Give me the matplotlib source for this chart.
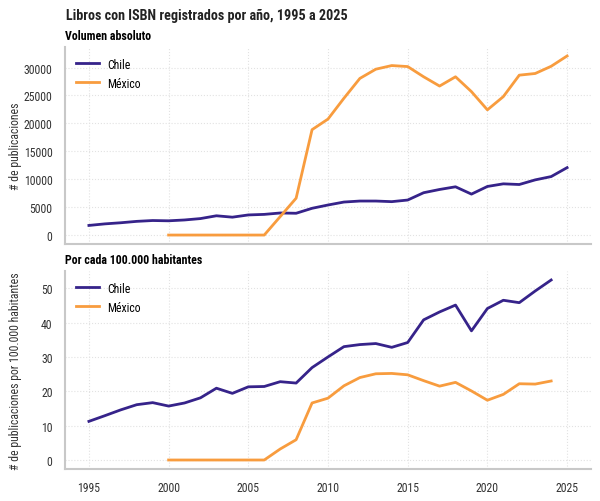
import numpy as np
import matplotlib.pyplot as plt

plt.rcParams['font.family'] = ['Roboto Condensed', 'Barlow Semi Condensed', 'Roboto', 'DejaVu Sans']

# datos
anios_chile = list(range(1995, 2026))
chile_abs = [1720, 2000, 2200, 2450, 2600, 2550, 2700, 2950, 3450, 3200, 3600,
             3700, 3950, 3900, 4790, 5380, 5910, 6090, 6090, 5980, 6270, 7580,
             8160, 8640, 7330, 8700, 9170, 9050, 9880, 10470, 12070]
anios_mexico = list(range(2000, 2026))
mexico_abs = [0, 0, 0, 0, 0, 0, 0, 3300, 6600, 18870, 20770, 24500, 28050,
              29700, 30350, 30170, 28340, 26680, 28340, 25680, 22420, 24790,
              28630, 28930, 30220, 32070]

anios_chile_pc = list(range(1995, 2025))
chile_pc = [11.25, 12.9, 14.6, 16.1, 16.7, 15.7, 16.6, 18.1, 20.9, 19.4, 21.3,
            21.4, 22.8, 22.4, 26.9, 30.0, 33.0, 33.6, 33.9, 32.8, 34.2, 40.8,
            43.1, 45.1, 37.6, 44.1, 46.5, 45.8, 49.2, 52.4]
anios_mexico_pc = list(range(2000, 2025))
mexico_pc = [0, 0, 0, 0, 0, 0, 0, 3.2, 5.9, 16.6, 18.0, 21.6, 24.0, 25.1, 25.2,
             24.8, 23.1, 21.5, 22.6, 20.1, 17.4, 19.1, 22.2, 22.1, 23.0]

color_chile = '#36238a'
color_mexico = '#f89c3e'

fig = plt.figure(figsize=(6, 5.02), dpi=100)
ax1 = fig.add_axes([65/600, 1-245/502, 526/600, 197/502])
ax2 = fig.add_axes([65/600, 1-470/502, 526/600, 198/502])

def estilo(ax):
    ax.grid(True, linestyle=':', color='#e2e2e2', linewidth=0.8)
    ax.set_axisbelow(True)
    for s in ['top', 'right']:
        ax.spines[s].set_visible(False)
    for s in ['left', 'bottom']:
        ax.spines[s].set_color('#c8c8c8')
        ax.spines[s].set_linewidth(1.5)
    ax.tick_params(length=0, labelsize=8.5, colors='#333333', pad=9)
    ax.set_xticks([1995, 2000, 2005, 2010, 2015, 2020, 2025])
    ax.legend(loc='upper left', frameon=False, fontsize=8.5, handlelength=2.0,
              handletextpad=0.7, labelspacing=0.5, borderaxespad=0.5)
    ax.yaxis.set_label_coords(-0.095, 0.5)

ax1.plot(anios_chile, chile_abs, color=color_chile, lw=2, label='Chile')
ax1.plot(anios_mexico, mexico_abs, color=color_mexico, lw=2, label='México')
estilo(ax1)
ax1.set_yticks([0, 5000, 10000, 15000, 20000, 25000, 30000])
ax1.tick_params(axis='x', labelbottom=False)
ax1.set_ylabel('# de publicaciones', fontsize=8.5, color='#333333', va='center')
ax1.set_title('Volumen absoluto', loc='left', fontsize=8.6, fontweight='bold', pad=6)

ax2.plot(anios_chile_pc, chile_pc, color=color_chile, lw=2, label='Chile')
ax2.plot(anios_mexico_pc, mexico_pc, color=color_mexico, lw=2, label='México')
estilo(ax2)
ax2.set_xlim(ax1.get_xlim())
ax2.set_yticks([0, 10, 20, 30, 40, 50])
ax2.set_ylabel('# de publicaciones por 100.000 habitantes', fontsize=8.5, color='#333333', va='center')
ax2.set_title('Por cada 100.000 habitantes', loc='left', fontsize=8.6, fontweight='bold', pad=6)

fig.text(66/600, 1-16/502, 'Libros con ISBN registrados por año, 1995 a 2025',
         fontsize=10.2, fontweight='bold', va='center', ha='left', color='#222222')

fig.savefig('out.png', dpi=100)
